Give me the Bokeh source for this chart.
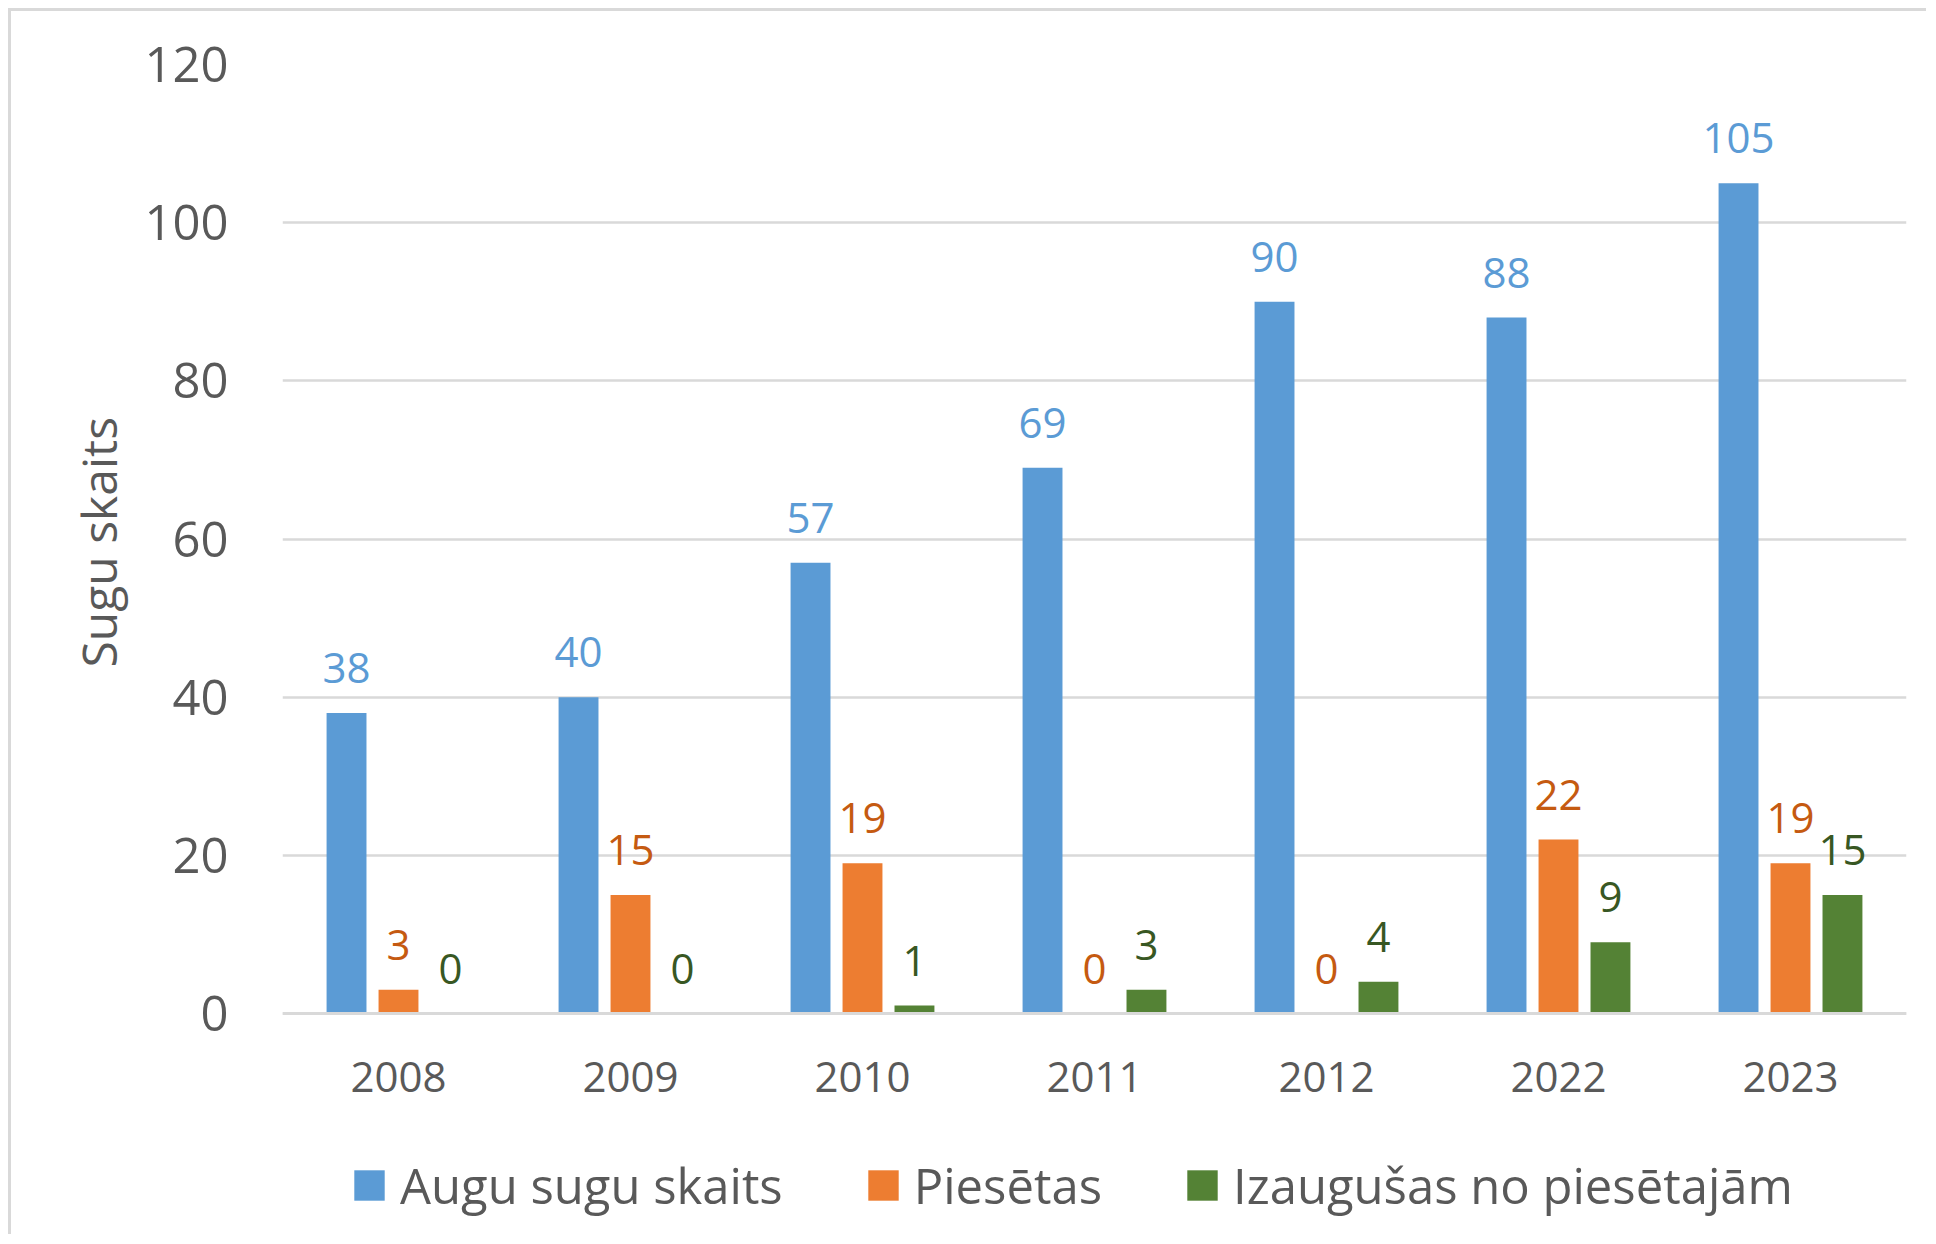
from bokeh.plotting import figure
from bokeh.models import (FactorRange, Range1d, ColumnDataSource, LabelSet,
                          Legend, LegendItem, FixedTicker, Title)
from bokeh.transform import dodge
from bokeh.core.properties import value
from bokeh.embed import file_html
from bokeh.resources import INLINE

# ---- data ----
years = ["2008", "2009", "2010", "2011", "2012", "2022", "2023"]
augu_sugu_skaits = [38, 40, 57, 69, 90, 88, 105]
piesetas = [3, 15, 19, 0, 0, 22, 19]
izaugusas = [0, 0, 1, 3, 4, 9, 15]
series_names = ["Augu sugu skaits", "Piesētas", "Izaugušas no piesētajām"]
y_ticks = [0, 20, 40, 60, 80, 100, 120]
y_title = "Sugu skaits"

# ---- styles / layout ----
FONT = "Open Sans"
TXT = "#595959"
GRID = "#d9d9d9"
bar_colors = ["#5b9bd5", "#ed7d31", "#548235"]
label_colors = ["#5b9bd5", "#c55a11", "#385723"]
offsets = [-0.224, 0.0, 0.224]
BAR_W = 0.172

Y_MAX = 120
PLOT_PX = 949            # pixels from 0 to Y_MAX
FRAME_H = 1162           # frame extends below 0 to hold the legend
y_start = -(FRAME_H - PLOT_PX) * Y_MAX / PLOT_PX

src = ColumnDataSource(dict(
    year=years,
    s0=augu_sugu_skaits, s1=piesetas, s2=izaugusas,
    t0=[str(v) for v in augu_sugu_skaits],
    t1=[str(v) for v in piesetas],
    t2=[str(v) for v in izaugusas],
))

p = figure(frame_width=1624, frame_height=FRAME_H, x_range=FactorRange(*years),
           y_range=Range1d(y_start, Y_MAX), output_backend="svg",
           toolbar_location=None, tools="",
           min_border_left=271, min_border_right=20,
           min_border_top=53, min_border_bottom=8)
p.x_range.range_padding = 0
p.outline_line_color = None
p.background_fill_color = "white"
p.border_fill_color = "white"
p.styles = {"margin-left": "8px", "margin-top": "8px",
            "border-left": "3px solid #d9d9d9", "border-top": "3px solid #d9d9d9"}

renderers = []
for i in range(3):
    r = p.vbar(x=dodge("year", offsets[i], range=p.x_range), top="s%d" % i,
               bottom=0, width=BAR_W, source=src, fill_color=bar_colors[i],
               line_color=None)
    renderers.append(r)
    lbl = LabelSet(x=dodge("year", offsets[i], range=p.x_range), y="s%d" % i,
                   text="t%d" % i, source=src, y_offset=30,
                   text_align="center", text_baseline="alphabetic",
                   text_font=value(FONT), text_font_size=value("42px"),
                   text_color=value(label_colors[i]))
    p.add_layout(lbl)

# grid
p.xgrid.grid_line_color = None
p.ygrid.grid_line_color = GRID
p.ygrid.grid_line_width = 2.5
p.ygrid.ticker = FixedTicker(ticks=y_ticks)

# y axis
p.yaxis.ticker = FixedTicker(ticks=y_ticks)
p.yaxis.axis_line_color = None
p.yaxis.major_tick_line_color = None
p.yaxis.minor_tick_line_color = None
p.yaxis.major_label_standoff = 48
p.yaxis.major_label_text_font = FONT
p.yaxis.major_label_text_font_size = "49px"
p.yaxis.major_label_text_color = TXT

# y axis title, placed beside the 0..120 part of the frame
y_label = Title(text=y_title, align="left", offset=559, standoff=22,
                text_font=FONT, text_font_size="48px", text_font_style="normal",
                text_color=TXT)
p.add_layout(y_label, "left")

# x axis, drawn at y = 0
p.xaxis.fixed_location = 0
p.xaxis.axis_line_color = GRID
p.xaxis.axis_line_width = 3
p.xaxis.major_tick_line_color = None
p.xaxis.minor_tick_line_color = None
p.xaxis.major_label_standoff = 42
p.xaxis.major_label_text_font = FONT
p.xaxis.major_label_text_font_size = "42px"
p.xaxis.major_label_text_color = TXT

legend = Legend(items=[LegendItem(label=series_names[i], renderers=[renderers[i]])
                       for i in range(3)],
                orientation="horizontal", location=(68, 8),
                glyph_width=38, glyph_height=38, label_standoff=12,
                spacing=81, padding=0, margin=0,
                border_line_color=None, background_fill_alpha=0,
                label_text_font=FONT, label_text_font_size="49px",
                label_text_color=TXT)
p.add_layout(legend, "center")

open("out.html", "w").write(file_html(p, INLINE))
